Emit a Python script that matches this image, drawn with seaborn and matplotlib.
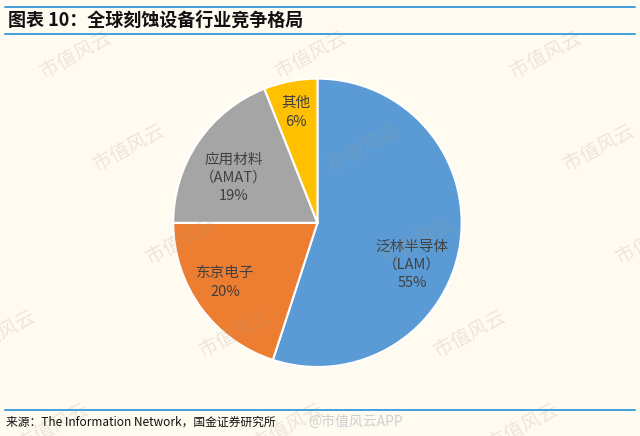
import numpy as np
import matplotlib
matplotlib.use("Agg")
import matplotlib.pyplot as plt
import seaborn as sns

# data
companies = ["泛林半导体\n（LAM）", "东京电子", "应用材料\n（AMAT）", "其他"]
shares = [55, 20, 19, 6]
colors = ["#5B9BD5", "#ED7D31", "#A5A5A5", "#FFC000"]

title = "图表 10：全球刻蚀设备行业竞争格局"
source = "来源：The Information Network，国金证券研究所"

sns.set_theme(style="white")
plt.rcParams["font.family"] = ["Noto Sans CJK SC", "DejaVu Sans"]

bg = "#FFFBF0"
line_c = "#3FA0DC"
fig = plt.figure(figsize=(6.4, 4.36), dpi=100, facecolor=bg)

ax = fig.add_axes([0.496 - 0.2253, 0.489 - 0.3307, 0.4506, 0.6614])
ax.set_facecolor("none")
wedges, _ = ax.pie(shares, colors=colors, startangle=90, counterclock=False,
                   wedgeprops=dict(edgecolor="white", linewidth=1.5))
ax.set_xlim(-1, 1)
ax.set_ylim(-1, 1)
ax.set_aspect("equal")
ax.axis("off")

# label placement relative to each wedge's middle
label_r = [0.72, 0.76, 0.66, 0.78]
label_shift = [-15, -3, 6, 0]
for w, name, pct, r, sh in zip(wedges, companies, shares, label_r, label_shift):
    a = np.deg2rad((w.theta1 + w.theta2) / 2 + sh)
    ax.text(r * np.cos(a), r * np.sin(a), f"{name}\n{pct}%", ha="center", va="center",
            fontsize=10.5, color="#404040", linespacing=1.4)

# faint watermark tiles across the page
for m in range(-1, 4):
    for k in range(-1, 5):
        x0 = 37 + 53 * k + 235 * m
        y0 = 83 + 93 * k
        if -60 < x0 < 660 and 30 < y0 < 460:
            fig.text(x0 / 640, 1 - y0 / 436, "市值风云", fontsize=14, color="#A89E84",
                     alpha=0.22, rotation=28, ha="left", va="bottom")

# header / footer rules
for y in [1 - 7 / 436, 1 - 34 / 436, 1 - 410 / 436]:
    fig.add_artist(plt.Line2D([0.008, 0.992], [y, y], color=line_c, lw=1.4))

fig.text(8 / 640, 1 - 20 / 436, title, fontsize=13, fontweight="bold", style="italic",
         color="#111111", ha="left", va="center")
fig.text(6 / 640, 1 - 422 / 436, source, fontsize=8.5, color="#111111",
         ha="left", va="center")
fig.text(308 / 640, 1 - 422 / 436, "@市值风云APP", fontsize=10, color="#D0D0D0",
         ha="left", va="center")

fig.savefig("out.png", dpi=100, facecolor=bg)
